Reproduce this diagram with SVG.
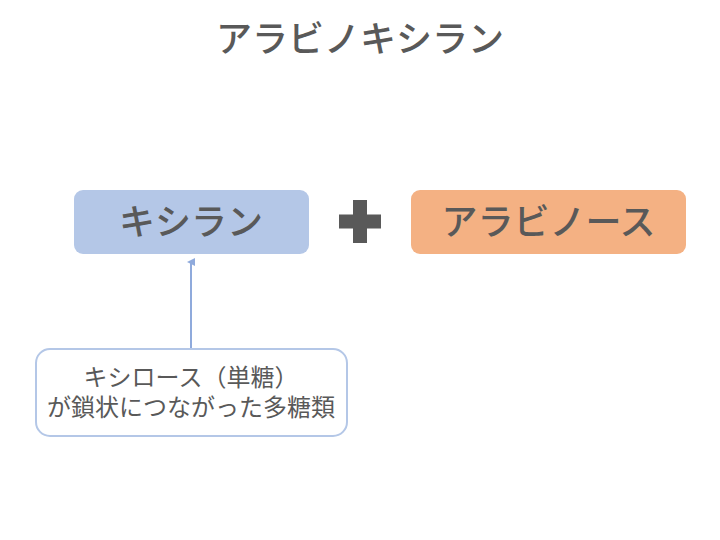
<svg xmlns="http://www.w3.org/2000/svg" width="720" height="540" viewBox="0 0 720 540">
<style>
text{font-family:"Noto Sans CJK JP","Noto Sans",sans-serif;fill:#595959;text-anchor:middle}
.t{font-size:36px;font-weight:500}
.b{font-size:36px;font-weight:500}
.c{font-size:24px;font-weight:400}
</style>
<defs>
<marker id="ah" markerWidth="8" markerHeight="8" refX="4" refY="4" orient="auto" markerUnits="userSpaceOnUse">
<path d="M0,8 L4,0 L8,8 Z" fill="#8faadc"/>
</marker>
</defs>
<rect width="720" height="540" fill="#ffffff"/>
<g id="title"><text class="t" x="360" y="52">アラビノキシラン</text></g>
<g id="xylan">
<rect x="74" y="190" width="235" height="64" rx="9" fill="#b4c7e7"/>
<text class="b" x="191" y="235">キシラン</text>
</g>
<g id="plus">
<path d="M353,200 H367 V214.5 H381 V228.5 H367 V243 H353 V228.5 H339 V214.5 H353 Z" fill="#595959"/>
</g>
<g id="arabinose">
<rect x="411" y="190" width="275" height="64" rx="9" fill="#f4b183"/>
<text class="b" x="548.5" y="235">アラビノース</text>
</g>
<g id="note">
<rect x="36" y="349" width="311" height="87" rx="14" fill="#ffffff" stroke="#b4c7e7" stroke-width="2"/>
<text class="c" x="191" y="386">キシロース（単糖）</text>
<text class="c" x="191" y="416">が鎖状につながった多糖類</text>
</g>
<g id="connectors">
<line x1="191" y1="348" x2="191" y2="262" stroke="#8faadc" stroke-width="2" marker-end="url(#ah)"/>
</g>
</svg>
